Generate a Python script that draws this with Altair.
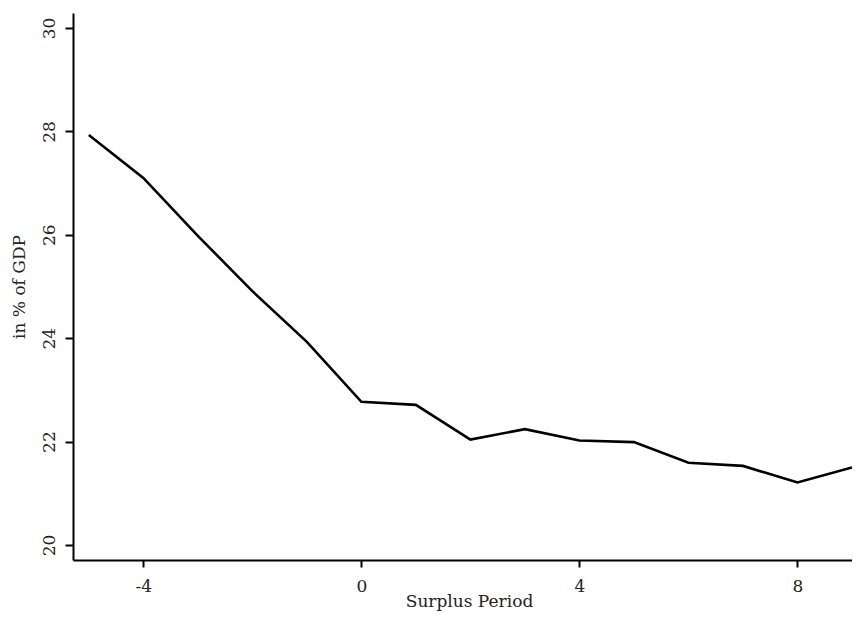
import altair as alt
import pandas as pd

periods = [-5, -4, -3, -2, -1, 0, 1, 2, 3, 4, 5, 6, 7, 8, 9]
values = [27.93, 27.10, 25.98, 24.91, 23.93, 22.77, 22.71, 22.04, 22.24,
          22.02, 21.99, 21.59, 21.53, 21.21, 21.50]
x_ticks = [-4, 0, 4, 8]
y_ticks = [20, 22, 24, 26, 28, 30]

df = pd.DataFrame({"period": periods, "value": values})

FONT = "DejaVu Serif"
TXT = "#222222"

chart = (
    alt.Chart(df)
    .mark_line(color="black", strokeWidth=2.6)
    .encode(
        x=alt.X(
            "period:Q",
            scale=alt.Scale(domain=[-5.29, 9.0], nice=False, zero=False),
            axis=alt.Axis(
                values=x_ticks,
                labelExpr="'' + datum.value",
                title="Surplus Period",
                grid=False,
                domainColor="black",
                domainWidth=2,
                tickColor="black",
                tickWidth=2,
                tickSize=7,
                labelPadding=11,
                labelFont=FONT,
                labelFontSize=17,
                labelColor=TXT,
                titleFont=FONT,
                titleFontSize=17,
                titleFontWeight="normal",
                titleColor=TXT,
                titleBaseline="alphabetic",
                titleAlign="center",
                titleX=396,
                titleY=46,
            ),
        ),
        y=alt.Y(
            "value:Q",
            scale=alt.Scale(domain=[19.71, 30.29], nice=False, zero=False),
            axis=alt.Axis(
                values=y_ticks,
                title="in % of GDP",
                grid=False,
                domainColor="black",
                domainWidth=2,
                tickColor="black",
                tickWidth=2,
                tickSize=8,
                labelAngle=-90,
                labelAlign="center",
                labelBaseline="alphabetic",
                labelPadding=11,
                labelFont=FONT,
                labelFontSize=17,
                labelColor=TXT,
                titleFont=FONT,
                titleFontSize=17,
                titleFontWeight="normal",
                titleColor=TXT,
                titlePadding=12,
            ),
        ),
    )
    .properties(
        width=779,
        height=547,
        background="white",
        autosize=alt.AutoSizeParams(type="none"),
        padding={"left": 65, "top": 5, "right": 0, "bottom": 51},
    )
    .configure_view(stroke="transparent", strokeWidth=0)
)

chart.save("out.html", embed_options={"renderer": "svg", "actions": False})
